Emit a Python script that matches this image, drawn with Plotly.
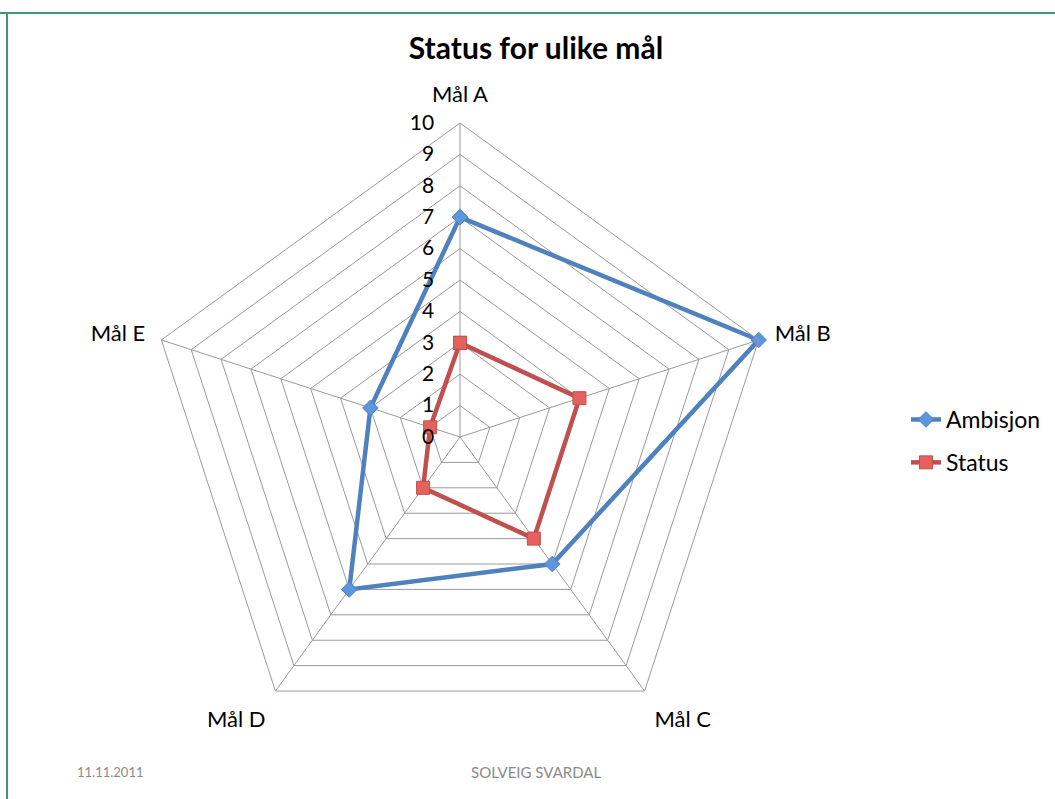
import plotly.graph_objects as go

categories = ["Mål A", "Mål B", "Mål C", "Mål D", "Mål E"]
ambisjon = [7, 10, 5, 6, 3]
status = [3, 4, 4, 2, 1]
radial_ticks = list(range(0, 11))

W, H = 1055, 799
cx, cy, R = 460, 437, 314

def close(v):
    return v + v[:1]

fig = go.Figure()
fig.add_trace(go.Scatterpolar(
    r=close(ambisjon), theta=close(categories), name="Ambisjon",
    mode="lines+markers", legendgroup="a",
    line=dict(color="#4f81bd", width=4.5),
    marker=dict(symbol="diamond", size=12, color="#5d95de", line=dict(color="#4f81bd", width=1)),
))
fig.add_trace(go.Scatterpolar(
    r=close(status), theta=close(categories), name="Status",
    mode="lines+markers", legendgroup="s",
    line=dict(color="#c0504d", width=4.5),
    marker=dict(symbol="square", size=13, color="#e6605d", line=dict(color="#c0504d", width=1)),
))

font_family = "Lato, Open Sans, sans-serif"
grid = "#9a9a9a"

fig.update_layout(
    width=W, height=H,
    margin=dict(l=0, r=0, t=0, b=0),
    paper_bgcolor="white",
    font=dict(family=font_family, color="black", size=20),
    title=dict(text="<b>Status for ulike mål</b>", x=536 / W, xanchor="center",
               y=1 - 48 / H, yanchor="middle", font=dict(size=30, color="black")),
    polar=dict(
        domain=dict(x=[(cx - R) / W, (cx + R) / W], y=[(H - cy - R) / H, (H - cy + R) / H]),
        gridshape="linear",
        bgcolor="white",
        angularaxis=dict(direction="clockwise", rotation=90, showline=True, linecolor=grid,
                         linewidth=1, gridcolor=grid, gridwidth=1,
                         ticks="outside", ticklen=12, tickcolor="rgba(0,0,0,0)",
                         tickfont=dict(size=22, color="black")),
        radialaxis=dict(range=[0, 10], tickvals=radial_ticks, angle=90, tickangle=90,
                        side="counterclockwise", showline=False,
                        ticks="outside", ticklen=18, tickcolor="rgba(0,0,0,0)",
                        gridcolor=grid, gridwidth=1,
                        tickfont=dict(size=21, color="black")),
    ),
    legend=dict(x=906 / W, y=1 - 398 / H, xanchor="left", yanchor="top",
                font=dict(size=23, color="black"), bgcolor="rgba(0,0,0,0)",
                itemwidth=30, tracegroupgap=10),
    shapes=[
        dict(type="line", xref="paper", yref="paper", x0=0, x1=1, y0=1 - 13 / H, y1=1 - 13 / H,
             line=dict(color="#3d9a6a", width=2)),
        dict(type="line", xref="paper", yref="paper", x0=7 / W, x1=7 / W, y0=0, y1=1 - 13 / H,
             line=dict(color="#3d9a6a", width=2)),
    ],
    annotations=[
        dict(text="11.11.2011", x=110 / W, y=1 - 772 / H, xref="paper", yref="paper",
             showarrow=False, xanchor="center", yanchor="middle",
             font=dict(size=13, color="#8a8a8a")),
        dict(text="SOLVEIG SVARDAL", x=536 / W, y=1 - 772 / H, xref="paper", yref="paper",
             showarrow=False, xanchor="center", yanchor="middle",
             font=dict(size=15, color="#8a8a8a")),
    ],
)

fig.write_html("out.html", config={"displayModeBar": False},
               post_script="document.body.style.margin='0px';")
